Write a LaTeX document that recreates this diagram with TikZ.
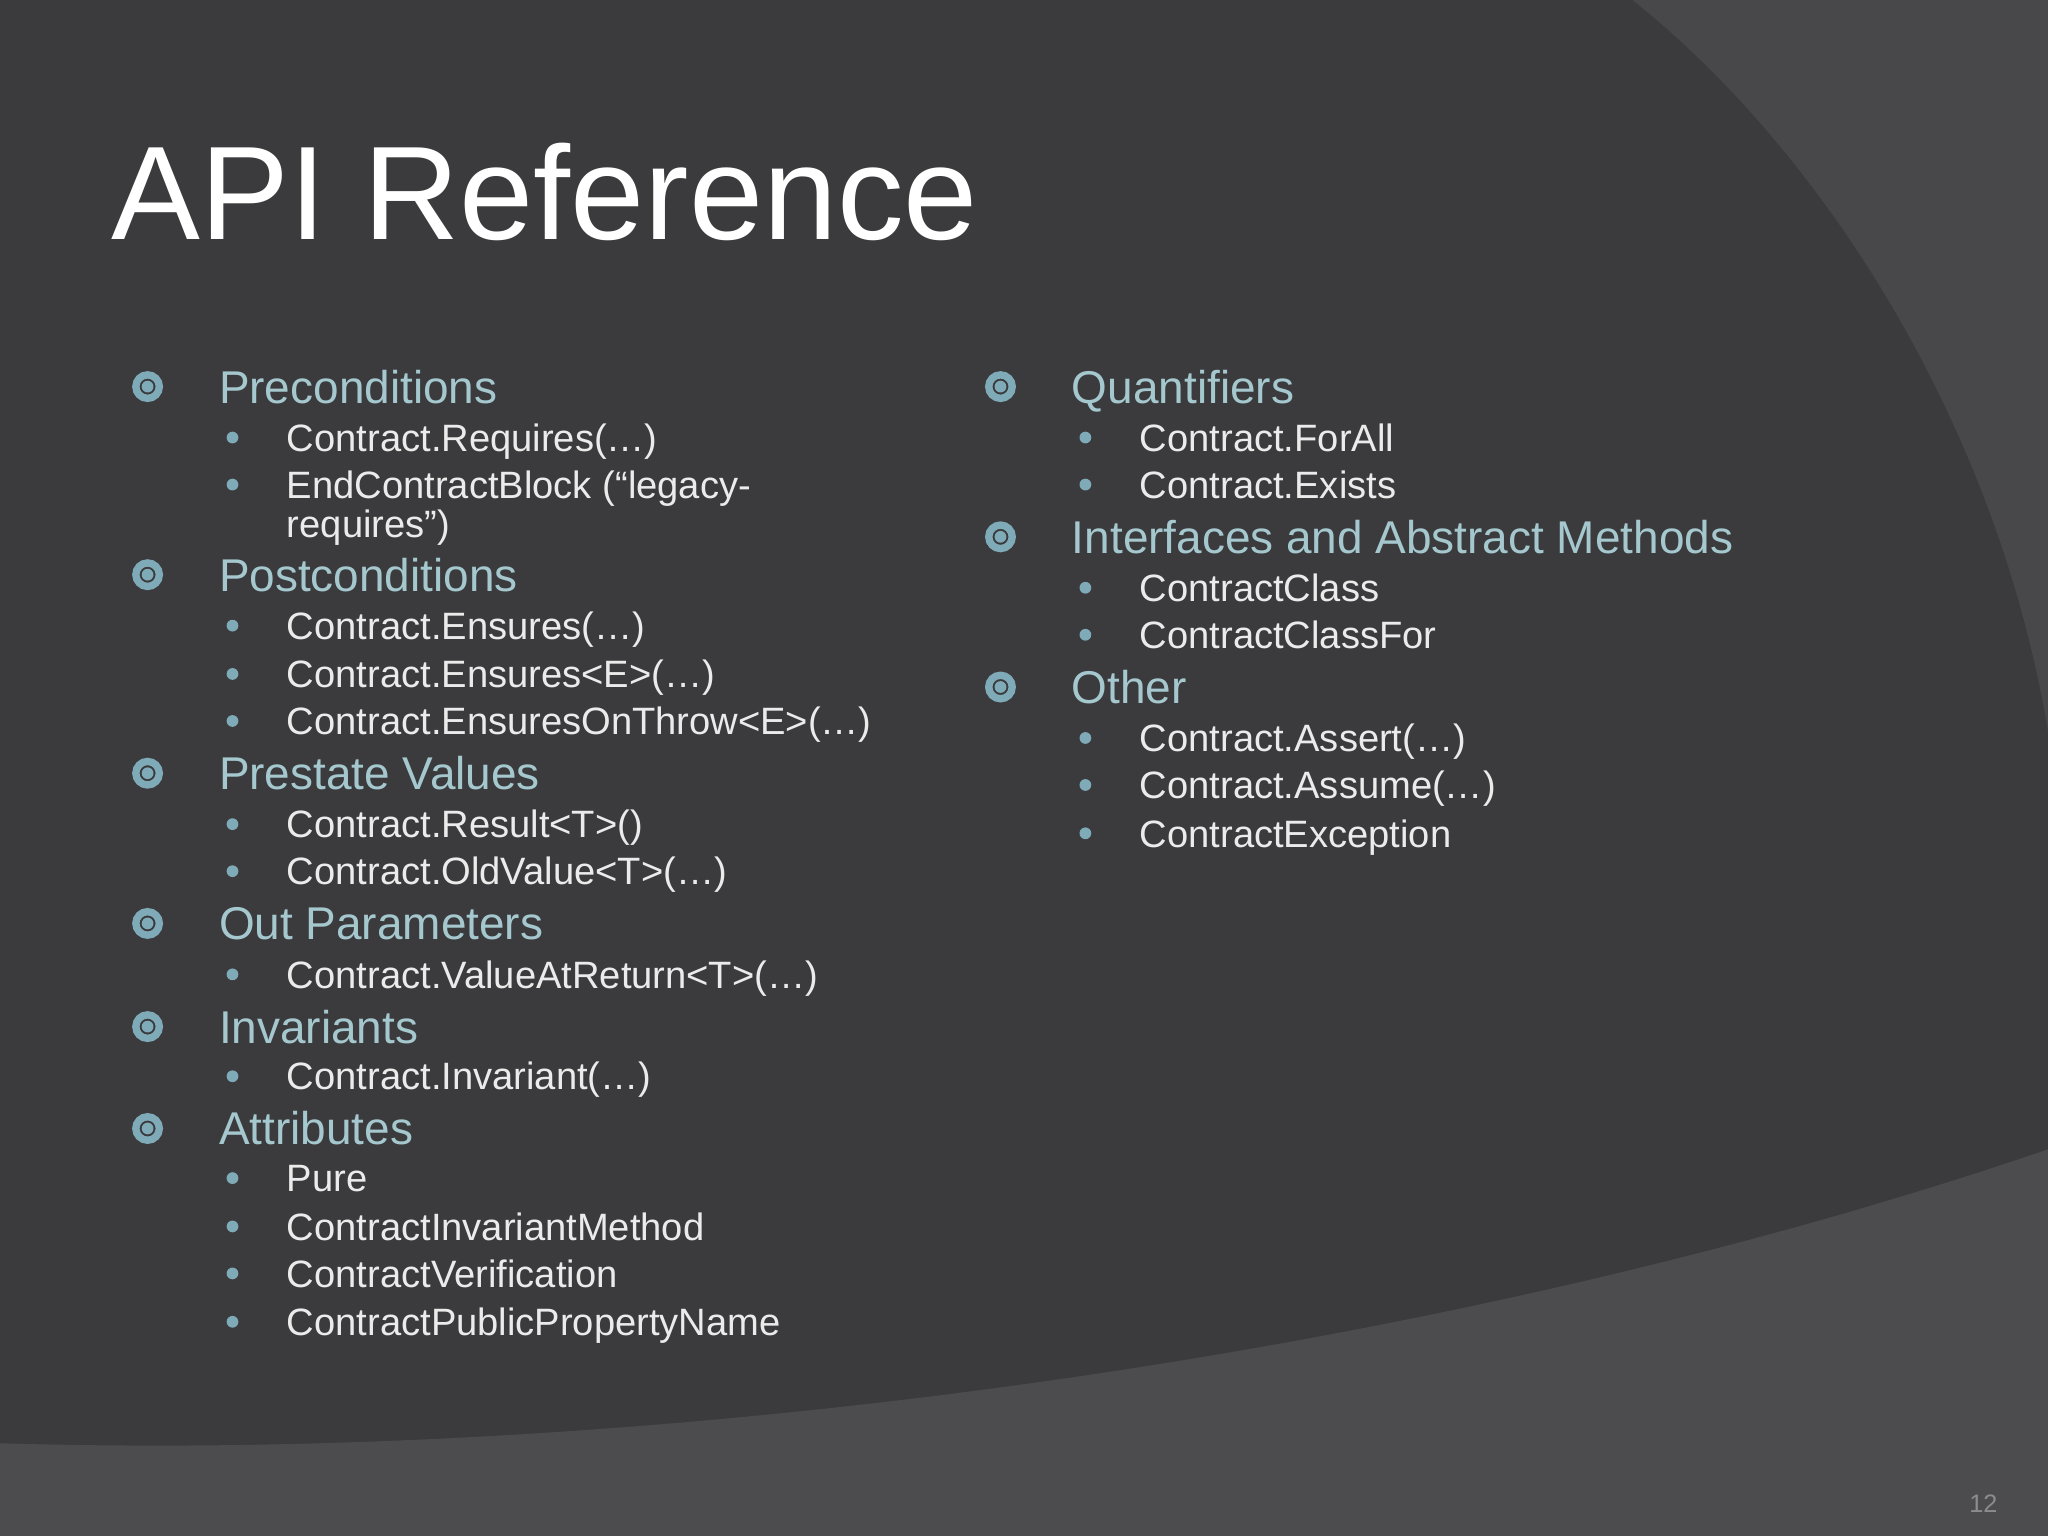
\documentclass[tikz,border=0pt]{standalone}
\usepackage{fontspec}
\setmainfont{Liberation Sans}
\begin{document}
\begin{tikzpicture}[x=0.01cm,y=-0.01cm,
  head/.style={anchor=base west,text=headc,font=\fontsize{10}{12}\selectfont,inner sep=0},
  item/.style={anchor=base west,text=white!92!black,font=\fontsize{8.3}{10}\selectfont,inner sep=0,align=left},
  hb/.style={draw=bulc,line width=1.6pt,fill=none},
  ]
\definecolor{bg}{HTML}{3B3B3D}
\definecolor{headc}{HTML}{A5C8CF}
\definecolor{bulc}{HTML}{7FAAB8}
\fill[bg] (0,0) rectangle (1568,1176);
\useasboundingbox (0,0) rectangle (1568,1176);
\fill[white,fill opacity=0.07] (1250,0) .. controls (1400,120) and (1530,330) .. (1568,560) -- (1568,0) -- cycle;
\fill[white,fill opacity=0.09] (0,1105) .. controls (500,1120) and (1100,1040) .. (1568,880) -- (1568,1176) -- (0,1176) -- cycle;
\node[anchor=base west,inner sep=0,text=white,font=\fontsize{29}{34}\selectfont] (title) at (85,183) {API Reference};
\node[anchor=base east,inner sep=0,text=white!55!black,font=\fontsize{5.5}{7}\selectfont] (pg) at (1530,1158) {12};
% headings
\foreach \n/\x/\y/\t in {h1/167/296/Preconditions,h2/167/440/Postconditions,h3/167/592/Prestate Values,h4/167/707/Out Parameters,h5/167/786/Invariants,h6/167/864/Attributes,h7/820/296/Quantifiers,h8/820/411/Interfaces and Abstract Methods,h9/820/526/Other}{
  \node[head] (\n) at (\x,\y+12.6) {\t};
  \draw[hb] (\x-54,\y) circle (9);
  \fill[bulc] (\x-54,\y) circle (4.5);
}
% items
\foreach \n/\x/\y/\t in {i1/219/335/Contract.Requires(…),i3/219/479/Contract.Ensures(…),i4/219/516/Contract.Ensures<E>(…),i5/219/552/Contract.EnsuresOnThrow<E>(…),i6/219/631/Contract.Result<T>(),i7/219/667/Contract.OldValue<T>(…),i8/219/746/Contract.ValueAtReturn<T>(…),i9/219/824/Contract.Invariant(…),i10/219/902/Pure,i11/219/939/ContractInvariantMethod,i12/219/975/ContractVerification,i13/219/1012/ContractPublicPropertyName,j1/872/335/Contract.ForAll,j2/872/371/Contract.Exists,j3/872/450/ContractClass,j4/872/486/ContractClassFor,j5/872/565/Contract.Assert(…),j6/872/601/Contract.Assume(…),j7/872/638/ContractException}{
  \node[item] (\n) at (\x,\y+10.5) {\t};
  \fill[bulc] (\x-41,\y) circle (4.5);
}
\node[item] (i2) at (219,381.5) {EndContractBlock (“legacy-};
\node[item] (i2b) at (219,411.5) {requires”)};
\fill[bulc] (178,371) circle (4.5);
\end{tikzpicture}
\end{document}
